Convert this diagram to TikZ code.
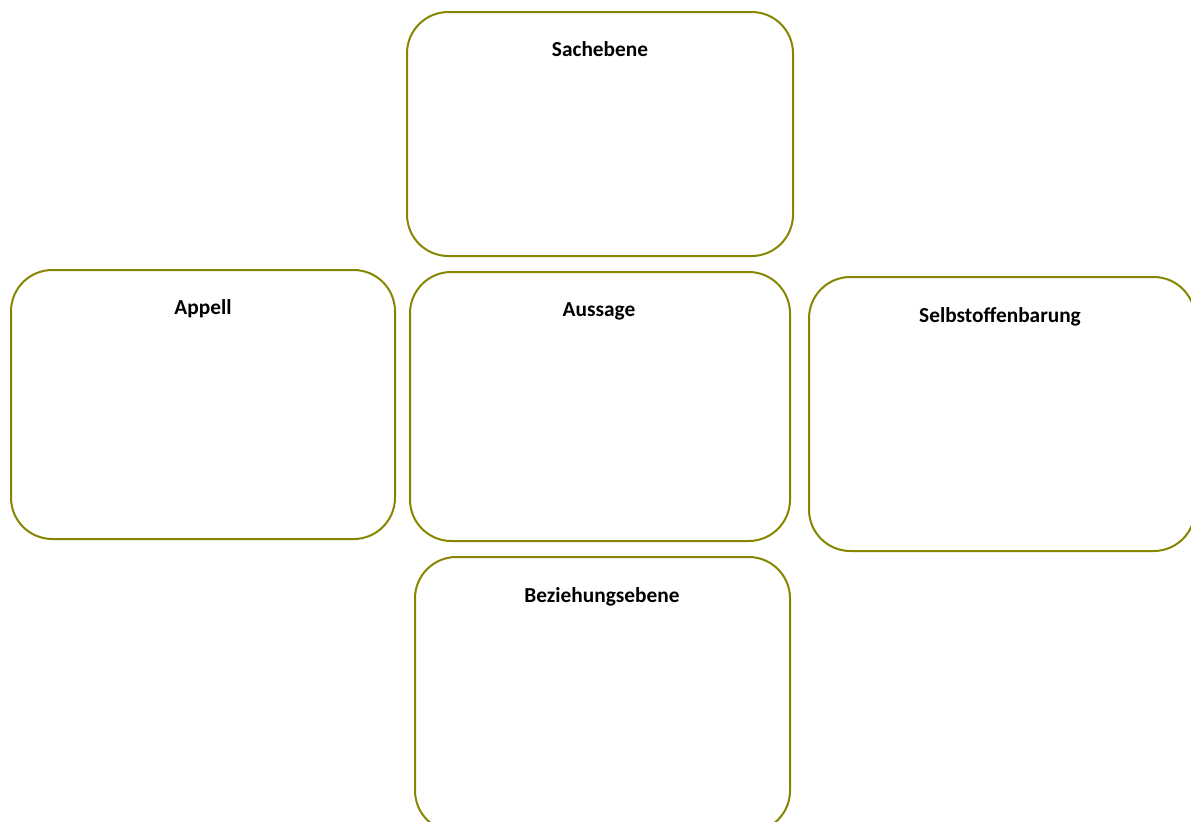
\documentclass[tikz,border=0pt]{standalone}
\usepackage{fontspec}
\setmainfont{Carlito}
\definecolor{olivebox}{RGB}{134,134,0}
\begin{document}
\begin{tikzpicture}[x=0.75pt,y=-0.75pt,
  panel/.style={draw=olivebox,line width=1.5pt,rounded corners=31pt},
  ttl/.style={font=\bfseries\fontsize{16pt}{19pt}\selectfont,anchor=center}]
\useasboundingbox (0,0) rectangle (1191,821);
\clip (0,0) rectangle (1191,821);
\fill[white] (0,0) rectangle (1191,821);
\draw[panel] (407,12) rectangle (793,256);
\draw[panel] (11,270) rectangle (395,539);
\draw[panel] (410,272) rectangle (790,541);
\draw[panel] (809,277) rectangle (1195,551);
\draw[panel] (415,557) rectangle (790,832);
\node[ttl] (sach) at (600,49) {Sachebene};
\node[ttl] (app) at (203,309) {Appell};
\node[ttl] (aus) at (599,311) {Aussage};
\node[ttl] (selbst) at (1000,317) {Selbstoffenbarung};
\node[ttl] (bez) at (602,597) {Beziehungsebene};
\end{tikzpicture}
\end{document}
